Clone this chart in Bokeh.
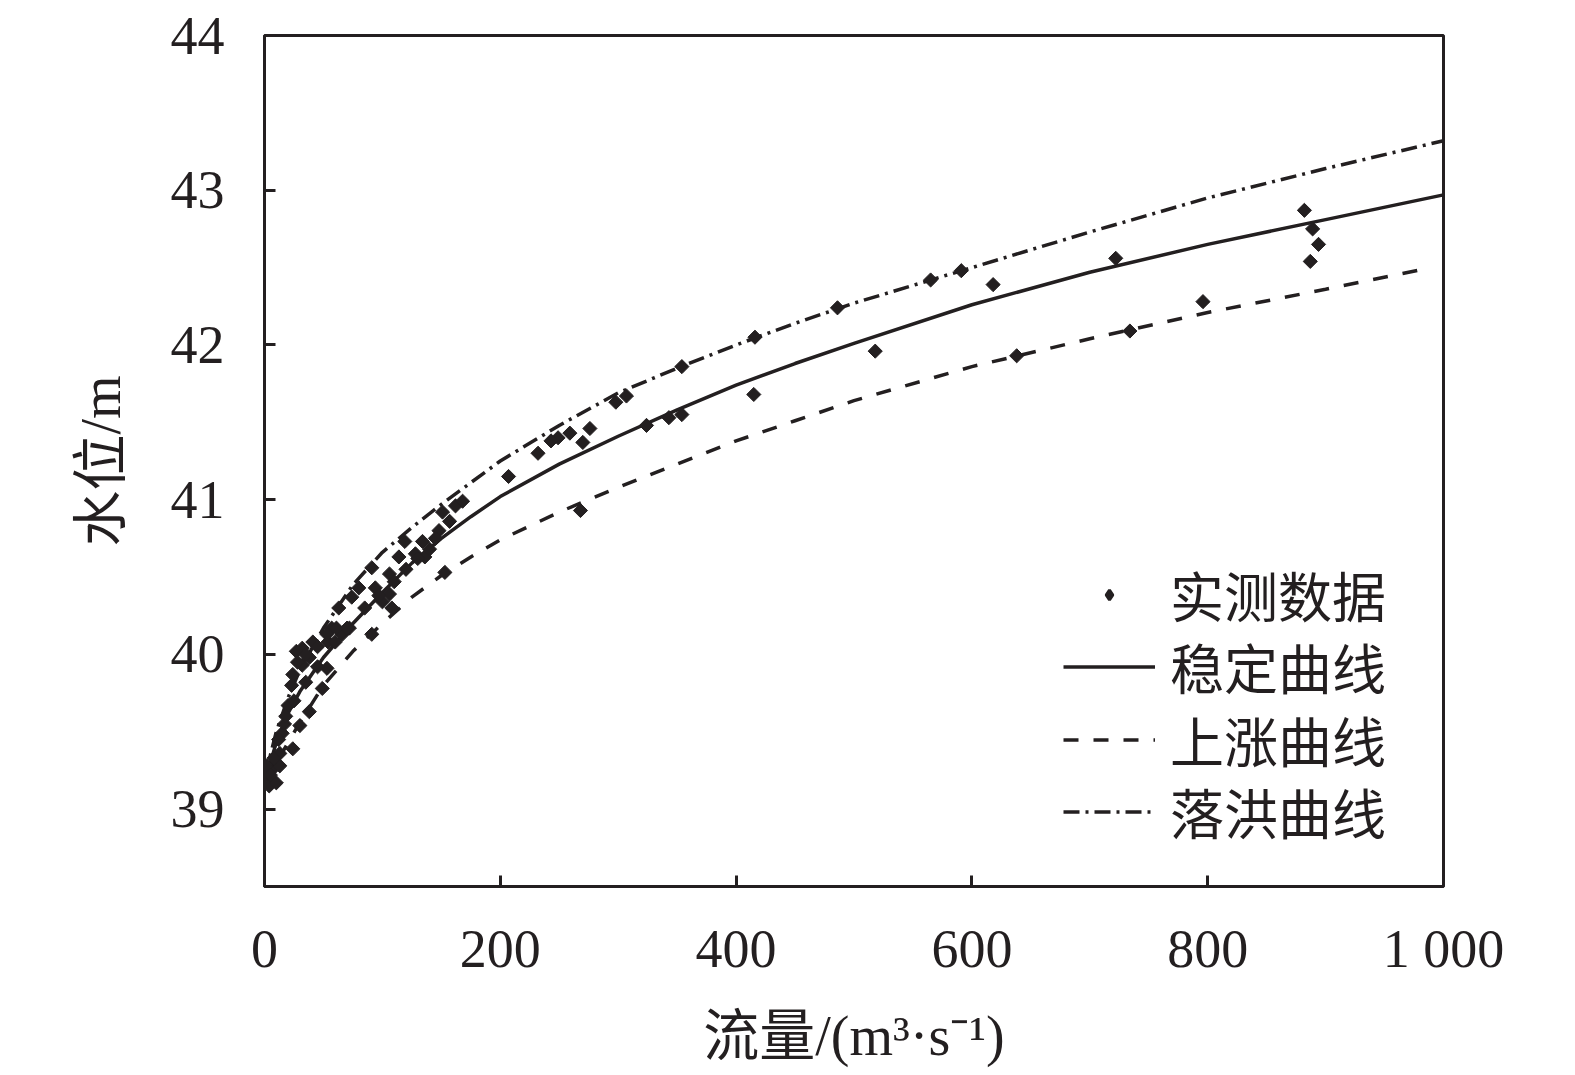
import numpy as np
from bokeh.plotting import figure
from bokeh.models import Range1d, FixedTicker, Legend, LegendItem
from bokeh.embed import file_html
from bokeh.resources import INLINE

# ---- data ----
obs_q = [882, 889, 894, 887, 796, 734, 722, 638, 618, 591, 565, 518, 486, 416, 415,
         354, 354, 343, 324, 307, 298, 276, 270, 268, 259, 249, 243, 232, 207,
         162, 168, 151, 157, 134, 136, 128, 114, 91, 106, 94, 106, 108, 100, 91, 153,
         63, 74, 80, 57, 66, 54, 119, 148,
         27, 32, 41, 53, 61, 72, 24, 23, 32, 38, 53, 49, 38, 20, 30, 15, 24, 13, 7, 4,
         10, 2, 13,
         12, 17, 25, 35, 45, 60, 70, 85, 97, 110, 120, 140, 130, 145, 28, 35, 45, 5, 8, 18]
obs_h = [42.87, 42.75, 42.65, 42.54, 42.28, 42.09, 42.56, 41.93, 42.39, 42.48, 42.42, 41.96,
         42.24, 42.05, 41.68, 41.86, 41.55, 41.53, 41.48, 41.67, 41.63, 41.46, 41.37, 40.93,
         41.43, 41.40, 41.38, 41.30, 41.15,
         40.96, 40.99, 40.92, 40.86, 40.73, 40.63, 40.65, 40.63, 40.56, 40.52, 40.43, 40.39,
         40.30, 40.34, 40.13, 40.53,
         40.30, 40.37, 40.43, 40.17, 40.13, 40.08, 40.73, 40.80,
         40.02, 40.04, 40.08, 40.13, 40.17, 40.17, 39.87, 39.80, 39.93, 39.98, 39.91, 39.78,
         39.63, 39.67, 39.54, 39.49, 39.39, 39.36, 39.26, 39.15, 39.17, 39.28, 39.28,
         39.45, 39.55, 39.70, 39.82, 39.92, 40.08, 40.17, 40.30, 40.38, 40.47, 40.55, 40.68,
         40.62, 40.75, 39.95, 40.00, 40.05, 39.22, 39.33, 39.60]

stable_q = [2, 5, 10, 20, 30, 50, 75, 100, 125, 150, 175, 200, 250, 300, 350, 400, 450,
            500, 600, 700, 800, 900, 1000]
stable_h = [39.18, 39.30, 39.43, 39.62, 39.76, 39.98, 40.20, 40.40, 40.59, 40.75, 40.89,
            41.02, 41.23, 41.41, 41.58, 41.74, 41.88, 42.01, 42.26, 42.47, 42.65, 42.81, 42.97]

rise_q = [2, 5, 10, 20, 30, 50, 75, 100, 125, 150, 175, 200, 250, 300, 350, 400, 450,
          500, 600, 700, 800, 900, 990]
rise_h = [39.15, 39.22, 39.30, 39.43, 39.56, 39.80, 40.02, 40.20, 40.37, 40.51, 40.63,
          40.74, 40.92, 41.08, 41.23, 41.38, 41.51, 41.64, 41.86, 42.04, 42.21, 42.36, 42.50]

fall_q = [2, 5, 10, 20, 30, 50, 75, 100, 125, 150, 175, 200, 250, 300, 350, 400, 450,
          500, 600, 700, 800, 900, 1000]
fall_h = [39.20, 39.35, 39.50, 39.72, 39.90, 40.17, 40.45, 40.66, 40.82, 40.97, 41.11,
          41.25, 41.48, 41.69, 41.85, 42.00, 42.14, 42.27, 42.50, 42.73, 42.95, 43.14, 43.32]

x_ticks = [0, 200, 400, 600, 800, 1000]
x_tick_labels = {1000: "1 000"}
y_ticks = [39, 40, 41, 42, 43, 44]

legend_labels = ["实测数据", "稳定曲线", "上涨曲线", "落洪曲线"]
x_label = "流量/(m³·s⁻¹)"
y_label = "水位/m"

INK = "#231f20"
SERIF = "Liberation Serif"
MIXED = "'Liberation Serif', 'Noto Sans CJK SC'"

p = figure(width=1575, height=1075, output_backend="svg", toolbar_location=None,
           x_range=Range1d(0, 1000), y_range=Range1d(38.5, 44),
           min_border_left=264, min_border_right=132, min_border_top=35, min_border_bottom=189)
p.background_fill_color = "white"
p.border_fill_color = "white"
p.outline_line_color = INK
p.outline_line_width = 3
p.grid.visible = False

for ax in (p.xaxis[0], p.yaxis[0]):
    ax.axis_line_color = INK
    ax.axis_line_width = 3
    ax.major_tick_line_color = INK
    ax.major_tick_line_width = 3
    ax.major_tick_in = 11
    ax.major_tick_out = 0
    ax.minor_tick_line_color = None
    ax.major_label_text_font = SERIF
    ax.major_label_text_font_size = "54px"
    ax.major_label_text_color = INK
    ax.axis_label_text_font = MIXED
    ax.axis_label_text_font_size = "56px"
    ax.axis_label_text_font_style = "normal"
    ax.axis_label_text_color = INK

p.xaxis.ticker = FixedTicker(ticks=x_ticks)
p.xaxis.major_label_overrides = x_tick_labels
p.yaxis.ticker = FixedTicker(ticks=y_ticks)
p.xaxis.axis_label = x_label
p.yaxis.axis_label = y_label
p.xaxis.major_label_standoff = 32
p.xaxis.axis_label_standoff = 23
p.yaxis.major_label_standoff = 40
p.yaxis.axis_label_standoff = 36

r_stable = p.line(stable_q, stable_h, line_color=INK, line_width=3.5)
r_rise = p.line(rise_q, rise_h, line_color=INK, line_width=3.5, line_dash="15 15")
r_fall = p.line(fall_q, fall_h, line_color=INK, line_width=3.5, line_dash="16 6 3 6")
# legend key: a small diamond drawn under the first observed point
r_key = p.scatter(x=obs_q[:1], y=obs_h[:1], marker="diamond", size=10, fill_color=INK,
                  line_color=INK, line_width=3)
r_obs = p.scatter(obs_q, obs_h, marker="square", angle=np.pi / 4, size=10,
                  fill_color=INK, line_color=INK)

# one single-row legend per entry so that the rows sit at the reference's spacing
legend_renderers = [r_key, r_stable, r_rise, r_fall]
legend_offsets = [252, 180, 107, 35]
for lab, rend, off in zip(legend_labels, legend_renderers, legend_offsets):
    lg = Legend(items=[LegendItem(label=lab, renderers=[rend])], location=(799, off))
    lg.label_text_font = "Noto Sans CJK SC"
    lg.label_text_font_size = "54px"
    lg.label_text_color = INK
    lg.glyph_width = 92
    lg.glyph_height = 25
    lg.label_height = 60
    lg.spacing = 0
    lg.label_standoff = 15
    lg.padding = 0
    lg.margin = 0
    lg.border_line_alpha = 0
    lg.background_fill_alpha = 0
    p.add_layout(lg, "center")

open("out.html", "w").write(file_html(p, INLINE))
